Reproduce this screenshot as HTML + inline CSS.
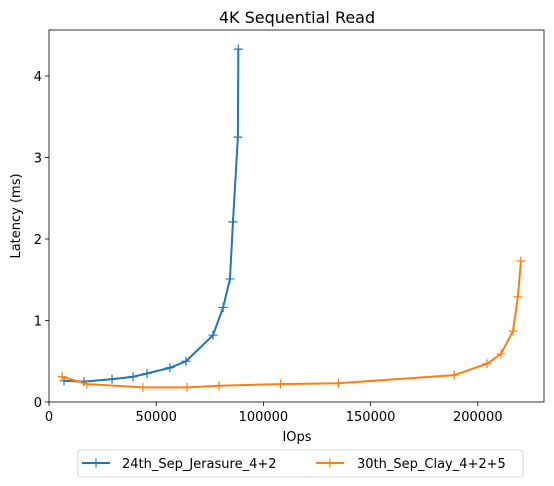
<!DOCTYPE html>
<html><head><meta charset="utf-8"><style>
body{margin:0;background:#fff;}
svg{font-family:"DejaVu Sans","Liberation Sans",sans-serif;}
</style></head><body>
<svg id="c" width="554" height="481" xmlns="http://www.w3.org/2000/svg"></svg>
<script>
const xTicks=[0,50000,100000,150000,200000];
const xTickLabels=["0","50000","100000","150000","200000"];
const yTicks=[0,1,2,3,4];
const yTickLabels=["0","1","2","3","4"];
const seriesNames=["24th_Sep_Jerasure_4+2","30th_Sep_Clay_4+2+5"];
const blueX=[7000,16300,29400,39200,45700,56400,63900,76500,81200,84400,85800,88100,88300];
const blueY=[0.26,0.25,0.28,0.31,0.35,0.42,0.50,0.82,1.16,1.51,2.21,3.25,4.33];
const orangeX=[6100,17700,43800,64400,79300,108000,135000,189000,204300,210800,216400,218700,220100];
const orangeY=[0.31,0.22,0.18,0.18,0.20,0.22,0.23,0.33,0.47,0.59,0.87,1.29,1.73];
const L=49,R=544,T=30,B=402;
const xs=v=>L+v*107.2/50000;
const ys=v=>B-v*81.5;
const svg=document.getElementById('c');
const NS="http://www.w3.org/2000/svg";
function mk(t,a,p){const e=document.createElementNS(NS,t);for(const k in a)e.setAttribute(k,a[k]);(p||svg).appendChild(e);return e;}
let e;
e=mk('text',{x:297,y:23,'font-size':16,'text-anchor':'middle',fill:'#000'});e.textContent='4K  Sequential Read';


xTicks.forEach((v,i)=>{
 const g=mk('g',{});
 
 
 mk('line',{x1:xs(v),x2:xs(v),y1:B,y2:B+4,stroke:'#000','stroke-width':0.8},g);
 const t=mk('text',{x:xs(v),y:B+19,'font-size':13,'text-anchor':'middle'},g);t.textContent=xTickLabels[i];
});
yTicks.forEach((v,i)=>{
 const g=mk('g',{});
 
 
 mk('line',{x1:L-4,x2:L,y1:ys(v),y2:ys(v),stroke:'#000','stroke-width':0.8},g);
 const t=mk('text',{x:L-7,y:ys(v)+5,'font-size':13,'text-anchor':'end'},g);t.textContent=yTickLabels[i];
});
e=mk('text',{x:297,y:441,'font-size':13,'text-anchor':'middle'});e.textContent='IOps';


e=mk('text',{x:20,y:216,'font-size':13,'text-anchor':'middle',transform:'rotate(-90 20 216)'});e.textContent='Latency (ms)';


function series(X,Y,col,name){
 const g=mk('g',{});
 
 
 mk('polyline',{points:X.map((x,i)=>xs(x)+','+ys(Y[i])).join(' '),fill:'none',stroke:col,'stroke-width':2},g);
 X.forEach((x,i)=>{const cx=xs(x),cy=ys(Y[i]);
  mk('path',{d:`M${cx-4.5} ${cy}H${cx+4.5}M${cx} ${cy-4.5}V${cy+4.5}`,stroke:col,'stroke-width':1.2},g);});
}
series(blueX,blueY,'#1f77b4','series-jerasure');
series(orangeX,orangeY,'#ff7f0e','series-clay');
e=mk('rect',{x:L,y:T,width:R-L,height:B-T,fill:'none',stroke:'#000','stroke-width':0.8});


const lg=mk('g',{});


mk('rect',{x:78,y:450,width:445,height:27,rx:2,fill:'#fff',stroke:'#ccc','stroke-width':0.8},lg);
const cols=['#1f77b4','#ff7f0e'],lx=[82,316],tx=[122,357];
seriesNames.forEach((n,i)=>{
 const g=mk('g',{},lg);
 
 
 mk('line',{x1:lx[i],x2:lx[i]+28,y1:463,y2:463,stroke:cols[i],'stroke-width':2},g);
 mk('path',{d:`M${lx[i]+9.5} 463H${lx[i]+18.5}M${lx[i]+14} 458.5V467.5`,stroke:cols[i],'stroke-width':1.2},g);
 const t=mk('text',{x:tx[i],y:468,'font-size':13},g);t.textContent=n;
});
</script>
</body></html>
